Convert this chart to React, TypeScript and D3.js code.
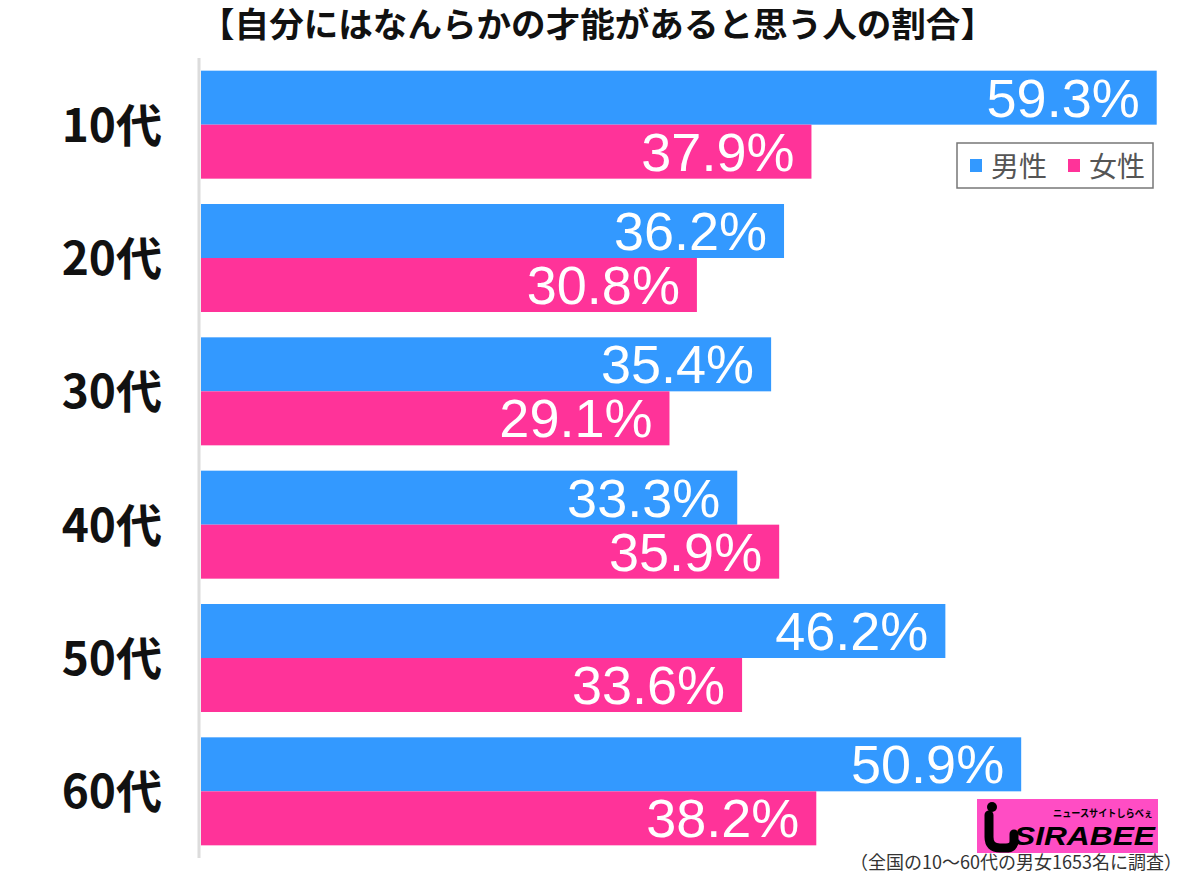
import React from "react";
import * as d3 from "d3";

const title = "【自分にはなんらかの才能があると思う人の割合】";
const categories = ["10代", "20代", "30代", "40代", "50代", "60代"];
const seriesNames = ["男性", "女性"];
const maleValues = [59.3, 36.2, 35.4, 33.3, 46.2, 50.9];
const femaleValues = [37.9, 30.8, 29.1, 35.9, 33.6, 38.2];
const colors = ["#3399ff", "#ff3399"];
const footnote = "（全国の10〜60代の男女1653名に調査）";

const W = 1200;
const H = 874;
const JP = "'Noto Sans CJK JP', 'Noto Sans', sans-serif";
const NUM = "'Liberation Sans', Arial, sans-serif";

export default function App() {
  const x = d3.scaleLinear().domain([0, 60]).range([200, 1168]);
  const y = d3
    .scaleBand<string>()
    .domain(categories)
    .range([58, 858])
    .paddingInner(0.19)
    .paddingOuter(0.095);
  const sub = d3.scaleBand<string>().domain(seriesNames).range([0, y.bandwidth()]).padding(0);
  const series = [maleValues, femaleValues];

  return (
    <svg width={W} height={H} style={{ position: "absolute", left: 0, top: 0 }}>
      <rect x={0} y={0} width={W} height={H} fill="#fff" />
      <text
        x={200}
        y={37}
        fontFamily={JP}
        fontWeight={700}
        fontSize={34}
        textLength={795}
        lengthAdjust="spacingAndGlyphs"
        fill="#111"
      >
        {title}
      </text>
      <line x1={199} x2={199} y1={58} y2={858} stroke="#dcdcdc" strokeWidth={3} />
      {categories.map((c, i) => (
        <g key={c}>
          {series.map((vals, s) => {
            const by = (y(c) as number) + (sub(seriesNames[s]) as number);
            const bh = sub.bandwidth();
            return (
              <g key={s}>
                <rect x={x(0) + 1} y={by} width={x(vals[i]) - x(0) - 1} height={bh} fill={colors[s]} />
                <text
                  x={x(vals[i]) - 17}
                  y={by + bh / 2 + 19}
                  textAnchor="end"
                  fontFamily={NUM}
                  fontSize={54}
                  fill="#fff"
                >
                  {vals[i].toFixed(1) + "%"}
                </text>
              </g>
            );
          })}
          <text
            x={162}
            y={(y(c) as number) + y.bandwidth() / 2 + 17}
            textAnchor="end"
            fontFamily={JP}
            fontWeight={700}
            fontSize={46}
            fill="#111"
          >
            {c}
          </text>
        </g>
      ))}
      {/* legend */}
      <g>
        <rect x={957} y={143} width={196} height={45} fill="#fff" stroke="#777" strokeWidth={1.5} />
        <rect x={970} y={159} width={12} height={13} fill={colors[0]} />
        <text x={991} y={177} fontFamily={JP} fontSize={28} fill="#555">
          {seriesNames[0]}
        </text>
        <rect x={1068} y={159} width={12} height={13} fill={colors[1]} />
        <text x={1089} y={177} fontFamily={JP} fontSize={28} fill="#555">
          {seriesNames[1]}
        </text>
      </g>
      {/* logo */}
      <g>
        <rect x={977} y={799} width={181} height={54} fill="#ff4dc4" />
        <circle cx={992} cy={807} r={5} fill="#000" />
        <path
          d="M989,815 L989,837 Q989,848 1000,848 L1006,848 Q1014,848 1014,841 L1014,834"
          fill="none"
          stroke="#000"
          strokeWidth={9}
          strokeLinecap="round"
        />
        <text
          x={1053}
          y={817}
          fontFamily={JP}
          fontWeight={700}
          fontSize={10}
          textLength={100}
          lengthAdjust="spacingAndGlyphs"
          fill="#000"
        >
          ニュースサイトしらべぇ
        </text>
        <text
          x={1014}
          y={845}
          fontFamily={NUM}
          fontWeight={700}
          fontStyle="italic"
          fontSize={25}
          textLength={141}
          lengthAdjust="spacingAndGlyphs"
          fill="#000"
        >
          SIRABEE
        </text>
      </g>
      <text x={1182} y={869} textAnchor="end" fontFamily={JP} fontSize={18} fill="#333">
        {footnote}
      </text>
    </svg>
  );
}
